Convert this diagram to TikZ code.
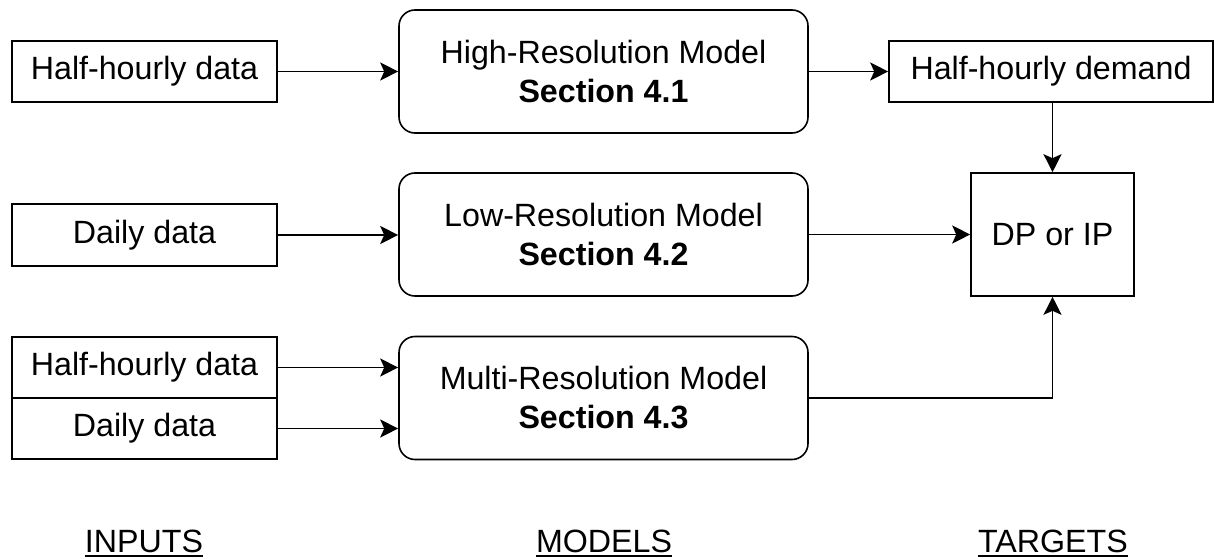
\documentclass[tikz,border=0pt]{standalone}
\usepackage{fontspec}
\setmainfont{Liberation Sans}
\usepackage{tikz}
\usetikzlibrary{arrows.meta}
\newcommand{\ulhead}[1]{\setbox0\hbox{#1}\copy0\llap{\rule[-2.6pt]{\wd0}{1.2pt}}}

\begin{document}
\begin{tikzpicture}[>={Stealth[length=9pt,width=9pt,inset=2pt]},x=0.5pt,y=0.5pt,
    line width=0.8pt,
    txt/.style={font=\fontsize{16.1pt}{19.5pt}\selectfont},
    inbox/.style={txt,draw,minimum width=132.5pt,minimum height=30.5pt,inner sep=0pt},
    model/.style={txt,draw,rounded corners=8pt,align=center,minimum width=204.5pt,minimum height=61.5pt,inner sep=0pt},
    colhead/.style={txt,anchor=base}]
  \useasboundingbox (0,0) rectangle (1214,558);
  % inputs
  \node[inbox] (in1) at (144.5,486.5) {Half-hourly data};
  \node[inbox,minimum height=31pt] (in2) at (144.5,323) {Daily data};
  \node[inbox] (in3a) at (144.5,190.5) {Half-hourly data};
  \node[inbox] (in3b) at (144.5,129.5) {Daily data};
  % models
  \node[model] (mod1) at (603.5,486.5) {High-Resolution Model\\\textbf{Section 4.1}};
  \node[model] (mod2) at (603.5,323.5) {Low-Resolution Model\\\textbf{Section 4.2}};
  \node[model] (mod3) at (603.5,160) {Multi-Resolution Model\\\textbf{Section 4.3}};
  % targets
  \node[inbox,minimum width=162pt] (tgt1) at (1051,486.5) {Half-hourly demand};
  \node[inbox,minimum width=81.5pt,minimum height=61.5pt] (dp) at (1052.5,323.5) {DP or IP};
  % connectors
  \draw[->] (in1) -- (mod1);
  \draw[->] (in2) -- (mod2.west |- in2.east);
  \draw[->] (in3a) -- (mod3.west |- in3a.east);
  \draw[->] (in3b) -- (mod3.west |- in3b.east);
  \draw[->] (mod1) -- (tgt1);
  \draw[->] (dp.north |- tgt1.south) -- (dp.north);
  \draw[->] (mod2) -- (dp);
  \draw[->] (mod3.east) -| (dp.south);
  % column headings
  \node[colhead] (hin) at (144,6) {\ulhead{INPUTS}};
  \node[colhead] (hmod) at (604,6) {\ulhead{MODELS}};
  \node[colhead] (htgt) at (1053,6) {\ulhead{TARGETS}};
\end{tikzpicture}
\end{document}
